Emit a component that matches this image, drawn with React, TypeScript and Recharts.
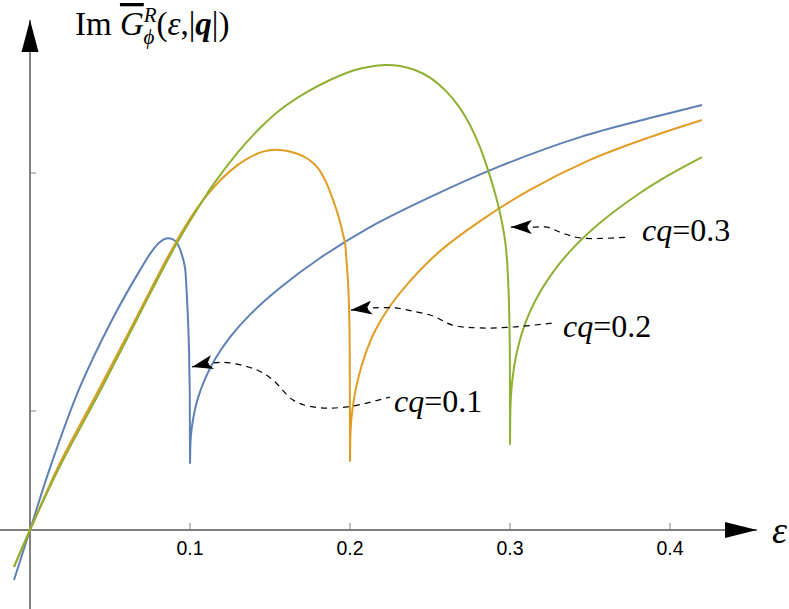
import React from 'react';
import { LineChart, Line, XAxis, YAxis, ReferenceLine, ReferenceDot } from 'recharts';

// Mathematica default palette + gray axes
const BLUE = '#5e81b5';
const ORANGE = '#e19c24';
const GREEN = '#8fb032';
const AXIS = '#808080';

// axis ranges (the plot area runs out to the arrow tips)
const X_MIN = -0.01875;
const X_MAX = 0.454375;
const Y_MIN = -0.332;
const Y_MAX = 2.143;

const xTicks = [0.1, 0.2, 0.3, 0.4];
const yTicks = [0.5, 1.5];

// cq = 0.1
const epsCq01 = [-0.01, 0, 0.0125, 0.03125, 0.0519, 0.06875, 0.07625, 0.08125, 0.085, 0.08875, 0.09188, 0.095, 0.09688,
  0.09781, 0.09875, 0.09938, 0.09984, 0.1,
  0.1003, 0.1009, 0.1025, 0.105, 0.1094, 0.1156, 0.125, 0.1375, 0.1563, 0.1813, 0.2125, 0.25, 0.2938, 0.3438, 0.3875, 0.42];
const imCq01 = [-0.21, 0, 0.261, 0.601, 0.891, 1.092, 1.172, 1.21, 1.225, 1.223, 1.206, 1.155, 1.101,
  1.013, 0.882, 0.76, 0.584, 0.282,
  0.369, 0.419, 0.487, 0.555, 0.635, 0.717, 0.81, 0.905, 1.018, 1.143, 1.273, 1.399, 1.529, 1.651, 1.731, 1.786];

// cq = 0.2
const epsCq02 = [-0.01, 0, 0.0169, 0.0419, 0.0625, 0.075, 0.0844, 0.09375, 0.1019, 0.1144, 0.125, 0.1356, 0.1456,
  0.1563, 0.1675, 0.17375, 0.18, 0.185, 0.1894, 0.1931, 0.1956, 0.1969, 0.1978, 0.1988, 0.1994, 0.1998, 0.2,
  0.2003, 0.2009, 0.2025, 0.205, 0.2094, 0.2156, 0.225, 0.2375, 0.2563, 0.2813, 0.3125, 0.35, 0.3875, 0.42];
const imCq02 = [-0.155, 0, 0.256, 0.576, 0.84, 1.004, 1.126, 1.239, 1.328, 1.437, 1.508, 1.559, 1.59,
  1.597, 1.58, 1.559, 1.521, 1.462, 1.387, 1.311, 1.244, 1.206, 1.134, 1.038, 0.933, 0.782, 0.29,
  0.408, 0.47, 0.551, 0.634, 0.735, 0.836, 0.941, 1.046, 1.172, 1.298, 1.429, 1.555, 1.651, 1.723];

// cq = 0.3
const epsCq03 = [-0.01, 0, 0.0175, 0.0425, 0.0625, 0.075, 0.0894, 0.1019, 0.1144, 0.13, 0.14375, 0.15625, 0.1719,
  0.1875, 0.2031, 0.2125, 0.2219, 0.23125, 0.2406, 0.25, 0.2606, 0.26875, 0.275, 0.28125, 0.28625, 0.29063, 0.29375,
  0.29688, 0.29813, 0.29875, 0.29938, 0.29981, 0.29997, 0.3,
  0.3003, 0.3009, 0.3025, 0.305, 0.3094, 0.3156, 0.325, 0.3375, 0.3563, 0.3813, 0.4, 0.42];
const imCq03 = [-0.155, 0, 0.252, 0.567, 0.828, 0.992, 1.176, 1.319, 1.45, 1.588, 1.689, 1.765, 1.836,
  1.891, 1.933, 1.947, 1.954, 1.95, 1.933, 1.901, 1.84, 1.773, 1.702, 1.609, 1.513, 1.416, 1.332,
  1.218, 1.134, 1.059, 0.95, 0.798, 0.639, 0.361,
  0.519, 0.591, 0.682, 0.768, 0.866, 0.961, 1.066, 1.171, 1.291, 1.416, 1.494, 1.567];

// dashed arrows, from the arrow tip to the label
const arrowEps01 = [0.10125, 0.1144, 0.125, 0.1419, 0.1519, 0.1644, 0.1769, 0.1981, 0.225];
const arrowIm01 = [0.685, 0.702, 0.702, 0.672, 0.63, 0.546, 0.517, 0.517, 0.559];
const arrowEps02 = [0.2006, 0.2144, 0.228, 0.239, 0.252, 0.264, 0.281, 0.302, 0.327];
const arrowIm02 = [0.924, 0.933, 0.933, 0.92, 0.899, 0.861, 0.849, 0.853, 0.87];
const arrowEps03 = [0.3005, 0.3144, 0.323, 0.331, 0.344, 0.375];
const arrowIm03 = [1.273, 1.273, 1.273, 1.252, 1.227, 1.231];

const labels = ['0.1', '0.2', '0.3'];
const labelEps = [0.2275, 0.3331, 0.3825];
const labelIm = [0.496, 0.811, 1.214];

const zip = (xs: number[], ys: number[]) => xs.map((x, i) => ({ x, y: ys[i] }));

const series = [
  { name: 'cq=0.1', color: BLUE, data: zip(epsCq01, imCq01) },
  { name: 'cq=0.2', color: ORANGE, data: zip(epsCq02, imCq02) },
  { name: 'cq=0.3', color: GREEN, data: zip(epsCq03, imCq03) },
];

const arrows = [zip(arrowEps01, arrowIm01), zip(arrowEps02, arrowIm02), zip(arrowEps03, arrowIm03)];

// centripetal Catmull-Rom curve factory (smooth through the points, no overshoot at the edges)
const smoothCurve = (context: any) => {
  let pts: number[][] = [];
  return {
    areaStart() {},
    areaEnd() {},
    lineStart() { pts = []; },
    point(x: number, y: number) { pts.push([+x, +y]); },
    lineEnd() {
      if (!pts.length) return;
      context.moveTo(pts[0][0], pts[0][1]);
      for (let i = 0; i < pts.length - 1; i++) {
        const p0 = pts[i - 1] || pts[i];
        const p1 = pts[i];
        const p2 = pts[i + 1];
        const p3 = pts[i + 2] || pts[i + 1];
        const l01 = Math.hypot(p1[0] - p0[0], p1[1] - p0[1]);
        const l12 = Math.hypot(p2[0] - p1[0], p2[1] - p1[1]);
        const l23 = Math.hypot(p3[0] - p2[0], p3[1] - p2[1]);
        const a01 = Math.sqrt(l01), a12 = Math.sqrt(l12), a23 = Math.sqrt(l23);
        let c1 = p1;
        let c2 = p2;
        if (a01 > 1e-6) {
          const a = 2 * l01 + 3 * a01 * a12 + l12;
          const n = 3 * a01 * (a01 + a12);
          c1 = [(p1[0] * a - p0[0] * l12 + p2[0] * l01) / n, (p1[1] * a - p0[1] * l12 + p2[1] * l01) / n];
        }
        if (a23 > 1e-6) {
          const b = 2 * l23 + 3 * a23 * a12 + l12;
          const m = 3 * a23 * (a23 + a12);
          c2 = [(p2[0] * b + p1[0] * l23 - p3[0] * l12) / m, (p2[1] * b + p1[1] * l23 - p3[1] * l12) / m];
        }
        context.bezierCurveTo(c1[0], c1[1], c2[0], c2[1], p2[0], p2[1]);
      }
    },
  };
};

const SERIF = '"Liberation Serif", "Times New Roman", serif';
const SANS = '"Liberation Sans", Arial, sans-serif';

const App: React.FC = () => {
  return (
    <div style={{ position: 'absolute', left: 0, top: 0, width: 789, height: 609, background: '#fff' }}>
      <svg width={0} height={0} style={{ position: 'absolute' }}>
        <defs>
          <marker id="arrowHead" viewBox="0 0 21 14" refX={21} refY={7} markerWidth={21} markerHeight={14}
            markerUnits="userSpaceOnUse" orient="auto-start-reverse">
            <path d="M21,7 L0,0 L5,7 L0,14 Z" fill="#000" />
          </marker>
        </defs>
      </svg>
      <LineChart width={789} height={609} margin={{ top: 20, right: 32, bottom: 0, left: 0 }}>
        <XAxis type="number" dataKey="x" domain={[X_MIN, X_MAX]} hide allowDataOverflow />
        <YAxis type="number" dataKey="y" domain={[Y_MIN, Y_MAX]} hide allowDataOverflow />

        <ReferenceLine y={0} stroke={AXIS} strokeWidth={2} />
        <ReferenceLine x={0} stroke={AXIS} strokeWidth={2} />

        {xTicks.map((t) => (
          <ReferenceDot key={'xt' + t} x={t} y={0} r={0}
            shape={(p: any) => (
              <g>
                <line x1={p.cx} x2={p.cx} y1={p.cy} y2={p.cy - 7} stroke={AXIS} strokeWidth={1} />
                <text x={p.cx} y={p.cy + 25} textAnchor="middle" fontFamily={SANS} fontSize={19.5} fill="#000">{t}</text>
              </g>
            )} />
        ))}
        {yTicks.map((t) => (
          <ReferenceDot key={'yt' + t} x={0} y={t} r={0}
            shape={(p: any) => <line x1={p.cx} x2={p.cx + 6} y1={p.cy} y2={p.cy} stroke={AXIS} strokeWidth={1} />} />
        ))}

        {/* axis arrows and titles */}
        <ReferenceDot x={X_MAX} y={0} r={0}
          shape={(p: any) => (
            <g>
              <polygon points={`${p.cx},${p.cy} ${p.cx - 32},${p.cy - 8} ${p.cx - 32},${p.cy + 8}`} fill="#000" />
              <text x={p.cx + 15} y={p.cy + 13} fontFamily={SERIF} fontStyle="italic" fontSize={38} fill="#000">ε</text>
            </g>
          )} />
        <ReferenceDot x={0} y={Y_MAX} r={0}
          shape={(p: any) => (
            <g>
              <polygon points={`${p.cx},${p.cy} ${p.cx - 8.5},${p.cy + 32} ${p.cx + 8.5},${p.cy + 32}`} fill="#000" />
              <text x={p.cx + 45} y={p.cy + 15} fontFamily={SERIF} fontSize={33} fill="#000">
                <tspan>Im </tspan>
                <tspan fontStyle="italic" style={{ textDecoration: 'overline' }}>G</tspan>
                <tspan fontStyle="italic" fontSize={21} dy={-13}>R</tspan>
                <tspan fontStyle="italic" fontSize={21} dx={-13} dy={22}>ϕ</tspan>
                <tspan dx={2} dy={-9}>(</tspan>
                <tspan fontStyle="italic">ε</tspan>
                <tspan>,|</tspan>
                <tspan fontStyle="italic" fontWeight="bold">q</tspan>
                <tspan>|)</tspan>
              </text>
            </g>
          )} />

        {series.map((s) => (
          <Line key={s.name} data={s.data} dataKey="y" type={smoothCurve as any} stroke={s.color} strokeWidth={2}
            dot={false} activeDot={false} isAnimationActive={false} />
        ))}

        {arrows.map((a, i) => (
          <Line key={'arrow' + i} data={a} dataKey="y" type={smoothCurve as any} stroke="#000" strokeWidth={1.2}
            strokeDasharray="6 5" dot={false} activeDot={false} isAnimationActive={false}
            markerStart="url(#arrowHead)" />
        ))}

        {labels.map((l, i) => (
          <ReferenceDot key={'lab' + l} x={labelEps[i]} y={labelIm[i]} r={0}
            shape={(p: any) => (
              <text x={p.cx} y={p.cy} fontFamily={SERIF} fontSize={32} fill="#000">
                <tspan fontStyle="italic">cq</tspan>
                <tspan>={l}</tspan>
              </text>
            )} />
        ))}
      </LineChart>
    </div>
  );
};

export default App;
